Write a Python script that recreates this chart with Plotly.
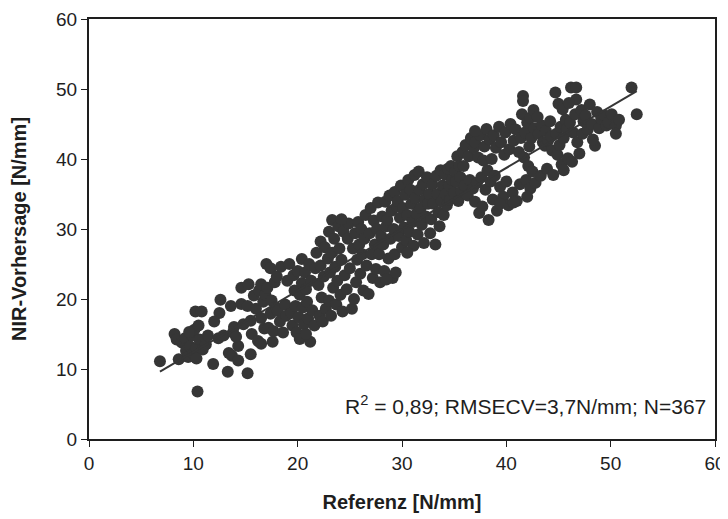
import plotly.graph_objects as go

# Reference values (x) and NIR predictions (y) (N = 367)
ref_x = [
    6.8, 8.2, 8.4, 8.6, 8.9, 9.2, 9.3, 9.5, 9.7, 9.9, 10.0, 10.1, 10.2, 10.3, 10.4, 10.5, 10.6, 10.8, 10.9, 11.2, 11.4, 9.6, 10.3,
    11.9, 12.4, 12.5, 12.6, 12.9, 13.3, 13.4, 13.6, 13.7, 13.8, 13.9, 14.3, 14.3, 14.6, 14.6, 14.8, 15.2, 15.2, 15.3, 15.5, 15.5, 15.6, 15.8, 16.0, 16.2, 16.3, 16.5, 16.5, 16.5, 16.7, 16.8, 16.9, 14.1, 12.0,
    17.0, 17.1, 17.2, 17.4, 17.4, 17.5, 17.6, 17.7, 17.8, 17.9, 18.0, 18.1, 18.3, 18.4, 18.6, 18.8, 18.9, 19.0, 19.2, 19.4, 19.5, 19.6, 19.7, 19.8, 19.9, 20.0, 20.1, 20.2, 20.2, 20.4, 20.4, 20.5,
    20.6, 20.7, 20.8, 20.9, 21.0, 21.1, 21.2, 21.3, 21.4, 21.6, 21.7, 21.8, 22.0, 22.1, 22.2, 22.2, 22.3, 22.4, 22.5, 22.6, 22.7, 22.9, 23.0, 23.0, 23.1, 23.2, 23.3, 23.3, 23.4, 20.8,
    23.5, 23.6, 23.7, 23.8, 23.9, 24.0, 24.1, 24.2, 24.3, 24.4, 24.5, 24.7, 24.8, 24.9, 25.0, 25.2, 25.3, 25.4, 25.5, 25.6, 25.7, 25.8, 25.9, 26.0, 26.1, 26.2, 26.3, 26.4, 26.5, 24.2, 26.6,
    26.8, 26.9, 27.0, 27.1, 27.2, 27.3, 27.4, 27.5, 27.6, 27.7, 27.8, 27.9, 28.0, 28.1, 28.2, 28.3, 28.4, 28.5, 28.6, 28.7, 28.8, 28.9, 29.0, 29.1, 29.2, 29.3, 29.3, 29.4, 29.5, 28.5,
    29.6, 29.7, 29.8, 29.9, 30.0, 30.1, 30.2, 30.3, 30.4, 30.5, 30.6, 30.7, 30.8, 30.9, 31.0, 31.1, 31.2, 31.3, 31.4, 31.5, 31.6, 31.7, 31.8, 31.9, 32.0, 32.1, 32.2, 32.3, 32.4, 32.5, 30.5,
    32.6, 32.7, 32.8, 32.9, 33.0, 33.2, 33.3, 33.4, 33.5, 33.6, 33.7, 33.8, 33.9, 34.0, 34.1, 34.2, 34.3, 34.4, 34.5, 34.6, 34.7, 34.8, 35.0, 35.1, 35.2, 35.3, 35.4, 35.5,
    35.6, 35.7, 35.8, 35.9, 36.0, 36.1, 36.3, 36.4, 36.5, 36.6, 36.8, 36.9, 37.0, 37.0, 37.2, 37.3, 37.4, 37.5, 37.6, 37.7, 37.8, 37.9, 38.0, 38.1, 38.2, 38.3, 38.4, 38.5, 37.0,
    38.6, 38.7, 38.8, 38.9, 39.0, 39.1, 39.3, 39.4, 39.5, 39.7, 39.8, 39.9, 40.0, 40.2, 40.3, 40.4, 40.6, 40.7, 40.9, 41.0, 41.2, 41.3, 41.4, 41.5, 40.7, 39.4,
    41.6, 41.6, 41.7, 41.8, 41.9, 42.0, 42.1, 42.2, 42.3, 42.3, 42.4, 42.5, 42.7, 42.8, 43.1, 43.3, 43.4, 43.5, 43.7, 43.8, 43.9, 44.0, 44.2, 44.3, 44.4, 44.5, 42.0, 42.6, 43.0,
    44.7, 44.8, 44.9, 45.0, 45.1, 45.2, 45.3, 45.4, 45.5, 45.7, 45.8, 45.9, 46.1, 46.2, 46.3, 46.4, 46.6, 46.7, 46.7, 46.8, 47.0, 47.2, 47.3, 47.4, 45.5, 46.0,
    47.6, 47.8, 48.0, 48.2, 48.5, 48.7, 48.9, 49.1, 49.4, 49.6, 49.8, 50.1, 50.5, 50.5, 50.8, 52.0, 52.5, 48.3,
]
pred_y = [
    11.1, 15.0, 14.2, 11.4, 13.8, 14.4, 12.6, 11.7, 13.2, 14.8, 12.2, 15.6, 18.2, 13.0, 6.8, 16.2, 14.2, 18.2, 12.8, 13.5, 14.8, 15.3, 11.5,
    10.7, 14.4, 18.0, 19.9, 14.8, 9.6, 12.3, 19.0, 11.9, 15.2, 16.0, 11.2, 13.3, 19.3, 21.6, 16.4, 19.0, 9.4, 22.1, 12.1, 16.9, 15.0, 20.5, 18.6, 14.0, 21.2, 13.6, 17.3, 22.1, 19.6, 15.8, 20.6, 14.6, 16.8,
    25.0, 21.6, 15.9, 17.9, 24.4, 19.8, 13.9, 15.4, 22.4, 18.8, 23.2, 18.3, 16.8, 24.6, 15.2, 19.2, 17.6, 22.6, 25.0, 18.0, 16.2, 23.4, 21.2, 19.0, 15.2, 24.0, 17.4, 14.3, 20.6, 25.7, 22.3, 18.8,
    16.4, 23.8, 21.4, 19.6, 17.2, 25.0, 13.9, 22.6, 18.4, 16.2, 24.4, 26.6, 22.0, 17.6, 28.2, 24.8, 20.2, 16.8, 23.2, 27.4, 18.6, 25.8, 29.6, 19.8, 23.8, 17.6, 31.3, 26.6, 21.6, 15.0,
    28.6, 24.6, 19.2, 22.6, 30.4, 27.2, 20.6, 25.6, 18.2, 29.6, 23.4, 21.4, 28.6, 30.8, 24.4, 18.6, 27.2, 20.0, 29.4, 22.4, 25.6, 31.0, 27.8, 23.6, 30.0, 26.4, 21.2, 28.6, 32.0, 31.4, 24.8,
    20.7, 29.4, 33.0, 26.4, 23.0, 31.2, 27.8, 24.3, 30.0, 33.8, 26.4, 22.4, 29.0, 31.8, 27.8, 24.0, 33.9, 30.4, 31.3, 25.8, 34.8, 28.6, 32.6, 23.0, 30.0, 26.4, 35.3, 23.8, 33.2, 22.8,
    34.0, 29.0, 31.6, 36.2, 27.4, 33.0, 30.2, 34.9, 28.4, 32.0, 37.0, 29.6, 35.6, 33.6, 31.0, 27.6, 37.7, 34.4, 32.2, 29.2, 38.2, 35.6, 33.0, 30.6, 36.4, 28.0, 34.2, 31.8, 37.4, 33.6, 26.6,
    35.0, 29.4, 31.4, 36.4, 33.6, 27.8, 37.6, 35.0, 32.4, 30.4, 38.4, 34.0, 36.2, 32.0, 37.8, 35.0, 33.4, 38.6, 36.2, 34.2, 39.0, 37.0, 35.2, 38.2, 36.8, 40.4, 34.0, 39.0,
    37.4, 35.4, 41.0, 39.0, 36.2, 42.0, 34.8, 40.4, 37.0, 43.0, 35.8, 41.6, 33.9, 42.4, 36.6, 40.2, 32.3, 43.4, 37.4, 33.2, 39.8, 41.8, 35.6, 44.3, 38.4, 31.3, 42.8, 36.8, 44.0,
    40.0, 34.2, 43.4, 37.6, 41.6, 32.6, 44.6, 36.0, 42.4, 34.6, 40.6, 43.8, 36.8, 33.4, 41.4, 45.0, 35.2, 42.6, 44.2, 34.0, 41.0, 36.4, 43.0, 46.4, 33.8, 33.6,
    49.0, 48.3, 40.2, 43.8, 37.0, 45.2, 39.0, 41.8, 45.9, 35.8, 43.0, 38.2, 44.4, 36.6, 43.6, 37.6, 44.8, 42.4, 41.9, 44.0, 38.6, 42.6, 45.4, 43.2, 41.2, 37.7, 34.6, 47.0, 46.0,
    49.5, 43.6, 40.6, 47.9, 42.0, 44.6, 39.2, 47.1, 43.0, 45.6, 44.3, 40.1, 45.2, 50.2, 39.6, 43.8, 46.4, 50.2, 48.5, 42.4, 40.8, 47.0, 43.6, 45.4, 38.4, 48.0,
    46.2, 44.2, 47.8, 45.0, 41.9, 46.7, 44.4, 45.8, 46.2, 44.8, 45.2, 46.4, 44.8, 43.6, 45.6, 50.2, 46.4, 42.8,
]

# Regression line
fit_slope = 0.877
fit_intercept = 3.65

x_ticks = [0, 10, 20, 30, 40, 50, 60]
y_ticks = [0, 10, 20, 30, 40, 50, 60]
stats_text = "R<sup>2</sup> = 0,89; RMSECV=3,7N/mm; N=367"

n = min(len(ref_x), len(pred_y))
ref_x = ref_x[:n]
pred_y = pred_y[:n]

x0, x1 = min(ref_x), max(ref_x)

fig = go.Figure()
fig.add_trace(go.Scatter(
    x=ref_x, y=pred_y, mode="markers",
    marker=dict(size=12, color="#363636", line=dict(width=0)),
    showlegend=False,
))
fig.add_trace(go.Scatter(
    x=[x0, x1], y=[fit_intercept + fit_slope * x0, fit_intercept + fit_slope * x1],
    mode="lines", line=dict(color="#363636", width=2), showlegend=False,
))

font_family = "Liberation Sans, Arial, sans-serif"
fig.update_layout(
    width=728, height=519,
    margin=dict(l=81, r=21, t=11, b=88),
    paper_bgcolor="white", plot_bgcolor="white",
    font=dict(family=font_family, size=19, color="#1e1e1e"),
    xaxis=dict(
        range=[0, 60], tickvals=x_ticks, ticks="outside", ticklen=6, tickcolor="#1e1e1e",
        tickfont=dict(size=19),
        showline=True, linecolor="#1e1e1e", linewidth=2, mirror=True, showgrid=False, zeroline=False,
        automargin=False,
        title=dict(text="<b>Referenz [N/mm]</b>", font=dict(size=20), standoff=22),
    ),
    yaxis=dict(
        range=[0, 60], tickvals=y_ticks, ticks="outside", ticklen=6, tickcolor="#1e1e1e",
        tickfont=dict(size=19),
        showline=True, linecolor="#1e1e1e", linewidth=2, mirror=True, showgrid=False, zeroline=False,
        automargin=False,
        title=dict(text="<b>NIR-Vorhersage [N/mm]</b>", font=dict(size=20), standoff=24),
    ),
    annotations=[dict(
        x=59.3, y=4.8, xref="x", yref="y", text=stats_text, showarrow=False,
        xanchor="right", yanchor="middle", font=dict(size=21, color="#1e1e1e"),
    )],
)

fig.write_html("out.html")
